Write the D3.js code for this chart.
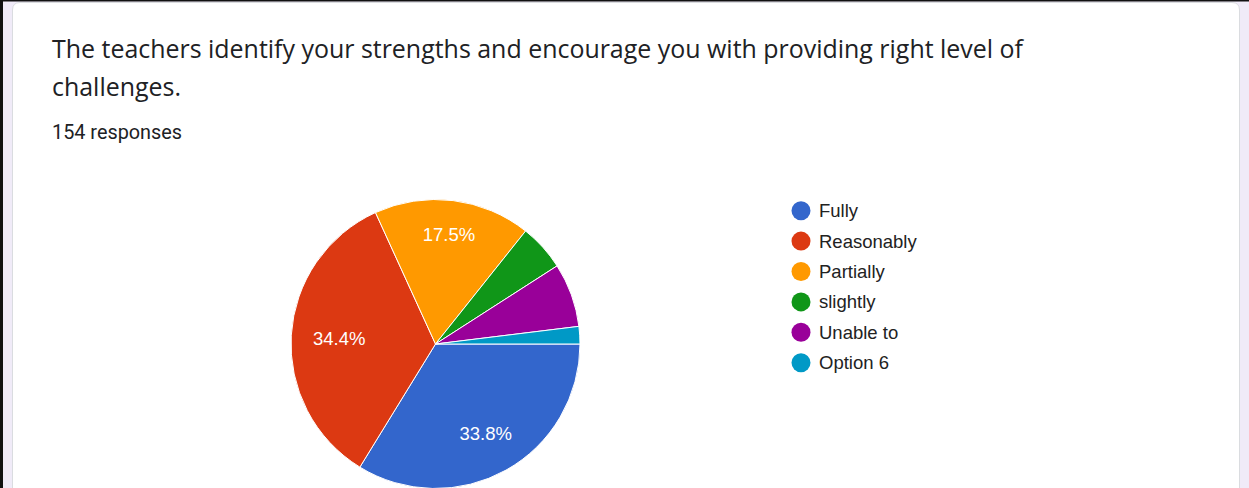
<!DOCTYPE html>
<html><head><meta charset="utf-8">
<script src="https://cdn.jsdelivr.net/npm/d3@7"></script>
<style>
html,body{margin:0;padding:0;background:#f0ebf8;overflow:hidden;}
svg{display:block;}
</style></head>
<body>
<svg id="chart" width="1249" height="488"></svg>
<script>
const categories = ["Fully", "Reasonably", "Partially", "slightly", "Unable to", "Option 6"];
const counts = [52, 53, 27, 8, 11, 3];
const colors = ["#3366cc", "#dc3912", "#ff9900", "#109618", "#990099", "#0099c6"];
const titleLines = ["The teachers identify your strengths and encourage you with providing right level of", "challenges."];
const responsesText = "154 responses";

const svg = d3.select("#chart");
const W = 1249, H = 488;

// page frame
svg.append("rect").attr("x", 0).attr("y", 0).attr("width", W).attr("height", H).attr("fill", "#f0ebf8");
svg.append("path")
  .attr("d", "M12.5,488 L12.5,10 Q12.5,2.5 20,2.5 L1232,2.5 Q1239.5,2.5 1239.5,10 L1239.5,488")
  .attr("fill", "#fff").attr("stroke", "#dadce0").attr("stroke-width", 1);
svg.append("rect").attr("x", 0).attr("y", 0).attr("width", W).attr("height", 1.5).attr("fill", "#111");
svg.append("rect").attr("x", 0).attr("y", 0).attr("width", 3).attr("height", H).attr("fill", "#111");

function fit(sel, target) {
  const node = sel.node();
  const fs = parseFloat(sel.attr("font-size"));
  const w = node.getComputedTextLength();
  sel.attr("font-size", (fs * target / w).toFixed(2));
}

// title
const t1 = svg.append("text").attr("x", 52).attr("y", 58)
  .attr("font-family", "'Open Sans', Roboto, sans-serif").attr("font-size", 22)
  .attr("fill", "#202124").text(titleLines[0]);
fit(t1, 971);
svg.append("text").attr("x", 52).attr("y", 96)
  .attr("font-family", "'Open Sans', Roboto, sans-serif").attr("font-size", t1.attr("font-size"))
  .attr("fill", "#202124").text(titleLines[1]);
const r1 = svg.append("text").attr("x", 52).attr("y", 139)
  .attr("font-family", "Roboto, sans-serif").attr("font-size", 14)
  .attr("fill", "#202124").text(responsesText);
fit(r1, 130);

// pie
const cx = 435.5, cy = 344, R = 144.5;
const data = categories.map((c, i) => ({ name: c, value: counts[i], color: colors[i] }));
const total = d3.sum(counts);
const pie = d3.pie().value(d => d.value).sort(null)
  .startAngle(Math.PI / 2).endAngle(Math.PI / 2 + 2 * Math.PI);
const arcs = pie(data);
const arc = d3.arc().innerRadius(0).outerRadius(R);
const g = svg.append("g").attr("transform", `translate(${cx},${cy})`);
g.selectAll("path.slice").data(arcs).join("path").attr("class", "slice")
  .attr("d", arc).attr("fill", d => d.data.color)
  .attr("stroke", "#fff").attr("stroke-width", 1);

// labels: place each label box along the bisector so that its outer corner sits at radius rho
const fsLabel = 18.5, rho = R * 0.852;
const labels = g.selectAll("text.lbl").data(arcs.filter(d => d.data.value / total > 0.1)).join("text")
  .attr("class", "lbl")
  .attr("text-anchor", "middle").attr("dy", "0.36em")
  .attr("font-family", "'Liberation Sans', Arial, sans-serif").attr("font-size", fsLabel)
  .attr("fill", "#fff")
  .text(d => (d.data.value / total * 100).toFixed(1) + "%");
labels.each(function (d) {
  const w = this.getComputedTextLength();
  const h = fsLabel * 0.72;
  const mid = (d.startAngle + d.endAngle) / 2;
  const ux = Math.sin(mid), uy = -Math.cos(mid);
  const a = Math.sign(ux) * w / 2, b = Math.sign(uy) * h / 2;
  const p = ux * a + uy * b;
  const dist = -p + Math.sqrt(p * p - (a * a + b * b - rho * rho));
  d3.select(this).attr("transform", `translate(${dist * ux},${dist * uy})`);
});

// legend
const legY = d3.scalePoint().domain(categories).range([210.7, 362.7]);
const leg = svg.append("g");
const items = leg.selectAll("g").data(data).join("g")
  .attr("transform", d => `translate(801,${legY(d.name)})`);
items.append("circle").attr("r", 9.5).attr("fill", d => d.color);
items.append("text").attr("x", 18).attr("y", 6.5)
  .attr("font-family", "'Liberation Sans', Arial, sans-serif").attr("font-size", 18.5)
  .attr("fill", "#222").text(d => d.name);
</script>
</body></html>
